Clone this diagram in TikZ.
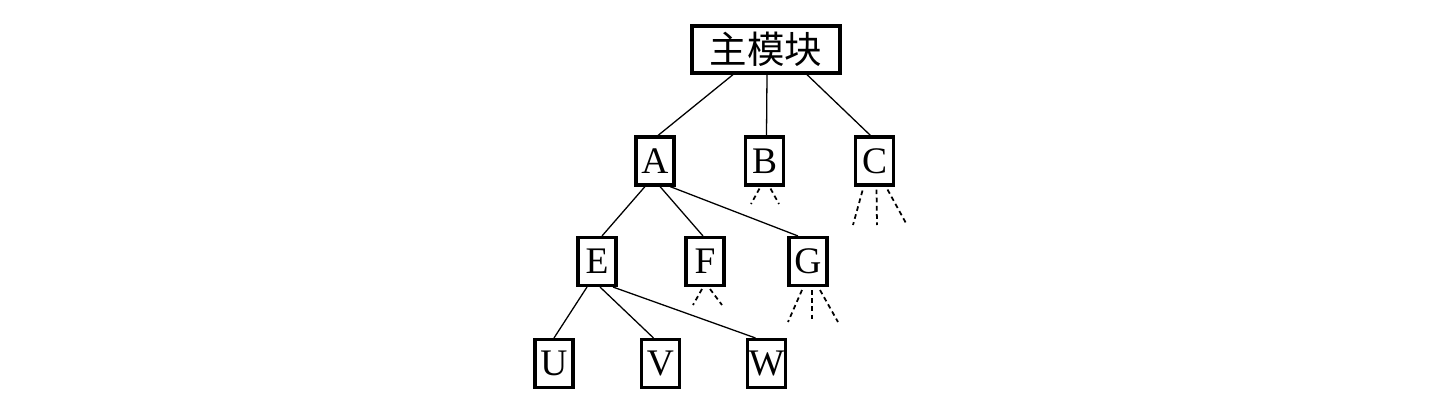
\documentclass[tikz,border=0pt]{standalone}
\usepackage{fontspec}
\setmainfont{Liberation Serif}
\newfontfamily\cjk{Noto Sans CJK SC}
\usepackage{tikz}
\usetikzlibrary{calc}

\begin{document}
\begin{tikzpicture}[
    x=0.03cm, y=-0.03cm,
    mod/.style={draw, line width=2.6pt, inner sep=0pt, minimum width=1.14cm, minimum height=1.44cm, font=\fontsize{32}{36}\selectfont},
    top/.style={draw, line width=2.8pt, inner sep=0pt, minimum width=4.44cm, minimum height=1.41cm, font=\cjk\fontsize{32}{36}\selectfont},
    link/.style={line width=1.1pt},
    more/.style={line width=1.5pt, dash pattern=on 4pt off 3pt}
]
    \useasboundingbox (0,0) rectangle (1443,409);

    \node[top] (main) at (766,49.5) {主模块};

    \node[mod] (A) at (655,161) {A};
    \node[mod] (B) at (764.5,161) {B};
    \node[mod] (C) at (874.5,161) {C};

    \node[mod] (E) at (597,261.5) {E};
    \node[mod] (F) at (705,261.5) {F};
    \node[mod] (G) at (808,261.5) {G};

    \node[mod] (U) at (554,363.5) {U};
    \node[mod] (V) at (660.5,363.5) {V};
    \node[mod] (W) at (766.5,363.5) {W};

    % free ends of the unfinished branches
    \coordinate (b1) at (751,204);
    \coordinate (b2) at (779,204);
    \coordinate (c1) at (853,225);
    \coordinate (c2) at (877,225);
    \coordinate (c3) at (907,225);
    \coordinate (f1) at (693,305);
    \coordinate (f2) at (722,305);
    \coordinate (g1) at (788,322);
    \coordinate (g2) at (812,322);
    \coordinate (g3) at (838,322);

    \draw[link] ($(main.south)+(-33,0)$) -- ($(A.north)+(3,0)$);
    \draw[link] ($(main.south)+(1,0)$) -- ($(B.north)+(2,0)$);
    \draw[link] ($(main.south)+(41,0)$) -- ($(C.north)+(-4,0)$);

    \draw[link] ($(A.south)+(-10,0)$) -- ($(E.north)+(5,0)$);
    \draw[link] ($(A.south)+(5,0)$) -- ($(F.north)+(-2,0)$);
    \draw[link] ($(A.south)+(15,0)$) -- ($(G.north)+(-10,0)$);

    \draw[link] ($(E.south)+(-10,0)$) -- (U.north);
    \draw[link] ($(E.south)+(3,0)$) -- ($(V.north)+(-7,0)$);
    \draw[link] ($(E.south)+(16,0)$) -- ($(W.north)+(-11,0)$);

    \draw[more] ($(B.south)+(-5,2)$) -- (b1);
    \draw[more] ($(B.south)+(6,2)$) -- (b2);
    \draw[more] ($(C.south)+(-12,4)$) -- (c1);
    \draw[more] ($(C.south)+(2,3)$) -- (c2);
    \draw[more] ($(C.south)+(13,3)$) -- (c3);
    \draw[more] ($(F.south)+(-3,2)$) -- (f1);
    \draw[more] ($(F.south)+(5,2)$) -- (f2);
    \draw[more] ($(G.south)+(-6,3)$) -- (g1);
    \draw[more] ($(G.south)+(4,3)$) -- (g2);
    \draw[more] ($(G.south)+(12,3)$) -- (g3);
\end{tikzpicture}
\end{document}
